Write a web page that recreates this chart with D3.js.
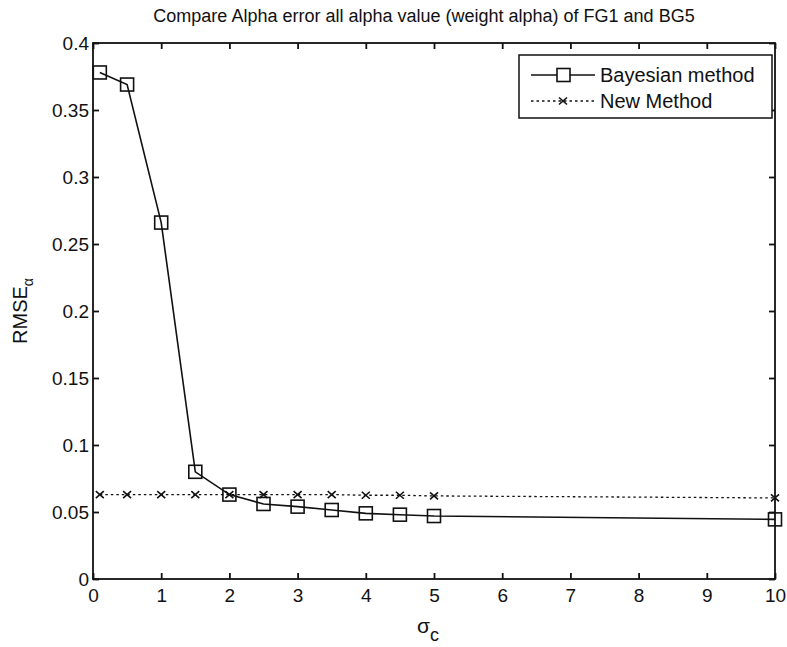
<!DOCTYPE html>
<html><head><meta charset="utf-8">
<script src="https://cdn.jsdelivr.net/npm/d3@7"></script>
<style>body{margin:0;background:#fff}svg{display:block}text{font-family:"Liberation Sans",Arial,sans-serif;fill:#111}</style>
</head><body><svg id="c" width="787" height="647"></svg>
<script>
const sigmaC = [0.1, 0.5, 1, 1.5, 2, 2.5, 3, 3.5, 4, 4.5, 5, 10];
const bayesian = [0.378, 0.369, 0.266, 0.080, 0.063, 0.056, 0.054, 0.0515, 0.049, 0.048, 0.047, 0.0445];
const newMethod = [0.063, 0.063, 0.063, 0.063, 0.063, 0.063, 0.063, 0.063, 0.0625, 0.0625, 0.062, 0.0605];
const xTicks = [0,1,2,3,4,5,6,7,8,9,10];
const yTicks = [0,0.05,0.1,0.15,0.2,0.25,0.3,0.35,0.4];
const seriesNames = ["Bayesian method", "New Method"];
const title = "Compare Alpha error all alpha value (weight alpha) of FG1 and BG5";

const svg = d3.select("#c");
const L=93, R=775, T=43, B=579;
const x = d3.scaleLinear().domain([0,10]).range([L,R]);
const y = d3.scaleLinear().domain([0,0.4]).range([B,T]);

// frame
svg.append("rect").attr("x",L).attr("y",T).attr("width",R-L).attr("height",B-T)
  .attr("fill","none").attr("stroke","#111").attr("stroke-width",1.8);

// axes with inward ticks
const fmt = d => d===0 ? "0" : String(d);
const gx = svg.append("g").attr("transform",`translate(0,${B})`)
  .call(d3.axisBottom(x).tickValues(xTicks).tickSize(-6).tickPadding(10).tickFormat(fmt));
const gxt = svg.append("g").attr("transform",`translate(0,${T})`)
  .call(d3.axisTop(x).tickValues(xTicks).tickSize(-6).tickFormat(""));
const gy = svg.append("g").attr("transform",`translate(${L},0)`)
  .call(d3.axisLeft(y).tickValues(yTicks).tickSize(-6).tickPadding(4).tickFormat(fmt));
const gyr = svg.append("g").attr("transform",`translate(${R},0)`)
  .call(d3.axisRight(y).tickValues(yTicks).tickSize(-6).tickFormat(""));
[gx,gxt,gy,gyr].forEach(g=>{
  g.select(".domain").remove();
  g.selectAll(".tick line").attr("stroke","#111").attr("stroke-width",1.8);
  g.selectAll("text").attr("font-size",19).attr("font-family","Liberation Sans, Arial, sans-serif").attr("fill","#111");
});

// title
svg.append("text").attr("x",424).attr("y",22).attr("text-anchor","middle").attr("font-size",18).text(title);
// x label
const xl = svg.append("text").attr("x",428).attr("y",633).attr("text-anchor","middle").attr("font-size",21);
xl.append("tspan").text("σ");
xl.append("tspan").attr("font-size",18).attr("dy",8).text("c");
// y label
const yl = svg.append("text").attr("transform","translate(27,311) rotate(-90)").attr("text-anchor","middle").attr("font-size",20);
yl.append("tspan").text("RMSE");
yl.append("tspan").attr("font-size",14).attr("dy",6).text("α");

const line = d3.line().x((d,i)=>x(sigmaC[i])).y(d=>y(d));
// New method dotted
svg.append("path").datum(newMethod).attr("d",line).attr("fill","none")
  .attr("stroke","#111").attr("stroke-width",1.3).attr("stroke-dasharray","2.5,3");
function xMark(g,cx,cy){
  g.append("path").attr("d",`M${cx-4},${cy-3.5}L${cx+4},${cy+3.5}M${cx+4},${cy-3.5}L${cx-4},${cy+3.5}`)
   .attr("stroke","#111").attr("stroke-width",1.6);
}
const gNew = svg.append("g");
newMethod.forEach((v,i)=>xMark(gNew,x(sigmaC[i]),y(v)));

// Bayesian solid
svg.append("path").datum(bayesian).attr("d",line).attr("fill","none")
  .attr("stroke","#111").attr("stroke-width",1.6);
svg.append("g").selectAll("rect").data(bayesian).join("rect")
  .attr("x",(d,i)=>x(sigmaC[i])-6.5).attr("y",d=>y(d)-6.5).attr("width",13).attr("height",13)
  .attr("fill","none").attr("stroke","#111").attr("stroke-width",1.6);

// legend
const lg = svg.append("g");
lg.append("rect").attr("x",519).attr("y",55).attr("width",253).attr("height",63)
  .attr("fill","#fff").attr("stroke","#111").attr("stroke-width",1.5);
lg.append("line").attr("x1",531).attr("x2",595).attr("y1",75).attr("y2",75).attr("stroke","#111").attr("stroke-width",1.6);
lg.append("rect").attr("x",557).attr("y",68.5).attr("width",13).attr("height",13).attr("fill","#fff").attr("stroke","#111").attr("stroke-width",1.6);
lg.append("line").attr("x1",531).attr("x2",595).attr("y1",101).attr("y2",101).attr("stroke","#111").attr("stroke-width",1.3).attr("stroke-dasharray","2.5,3");
xMark(lg,563,101);
lg.append("text").attr("x",600).attr("y",82).attr("font-size",20).text(seriesNames[0]);
lg.append("text").attr("x",600).attr("y",108).attr("font-size",20).text(seriesNames[1]);
</script></body></html>
